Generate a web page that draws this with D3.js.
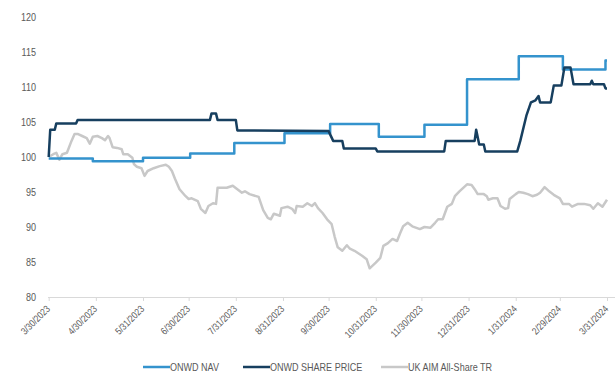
<!DOCTYPE html>
<html><head><meta charset="utf-8">
<script src="https://cdn.jsdelivr.net/npm/d3@7"></script>
<style>
html,body{margin:0;padding:0;background:#fff;}
svg{display:block;}
text{font-family:"Liberation Sans",Arial,sans-serif;fill:#595959;}
</style></head>
<body>
<svg id="chart" width="616" height="374"></svg>
<script>
// ---- data ----
const startDate = "2023-03-30";
const seriesNames = ["ONWD NAV", "ONWD SHARE PRICE", "UK AIM All-Share TR"];
const tickDates = ["2023-03-30","2023-04-30","2023-05-31","2023-06-30","2023-07-31","2023-08-31","2023-09-30","2023-10-31","2023-11-30","2023-12-31","2024-01-31","2024-02-29","2024-03-31"];
const yTicks = [80, 85, 90, 95, 100, 105, 110, 115, 120];

// NAV: days since start when a new NAV is published, and its value (step)
const navDays   = [0, 29, 62, 93, 122, 155, 185, 217, 247, 275, 309, 338, 366, 367];
const navValues = [99.8, 99.4, 99.9, 100.5, 102.0, 103.4, 104.7, 102.9, 104.6, 111.1, 114.4, 112.5, 113.8, 113.8];

// Share price: days since start, value
const priceDays   = [0, 1, 4, 5, 18, 19, 106, 107, 110, 111, 123, 124, 184, 187, 193, 194, 215, 216, 260, 261, 280, 281, 283, 286, 287, 308, 310, 314, 317, 320, 322, 323, 330, 332, 337, 339, 343, 345, 356, 357, 358, 365, 366, 367];
const priceValues = [100.0, 103.9, 103.9, 104.8, 104.8, 105.3, 105.3, 106.2, 106.2, 105.3, 105.3, 103.8, 103.7, 102.3, 102.3, 101.2, 101.2, 100.8, 100.8, 102.3, 102.3, 103.9, 101.8, 101.8, 100.8, 100.8, 102.3, 105.9, 107.8, 108.1, 108.7, 107.8, 107.8, 110.2, 110.2, 112.8, 112.8, 110.4, 110.4, 110.9, 110.4, 110.4, 109.8, 109.8];

// UK AIM All-Share TR: days since start, value
const indexDays = [0,3,5,7,9,12,15,17,19,22,25,27,29,32,35,37,39,40,42,45,48,49,52,55,56,58,61,63,65,69,73,77,79,81,83,86,90,92,94,98,100,103,105,108,110,111,115,117,121,124,127,129,132,138,141,144,146,148,152,153,157,160,162,163,167,170,173,175,177,180,183,186,188,190,193,196,198,201,206,209,211,215,218,220,223,226,229,231,233,236,239,244,247,251,254,256,259,262,265,267,270,275,278,280,282,286,288,289,292,295,297,300,302,303,307,309,312,315,318,321,323,326,329,332,336,338,342,344,348,352,356,358,361,364,367];
const indexValues = [100.0,100.4,100.6,99.6,100.4,100.6,102.3,103.3,103.3,103.0,102.7,101.9,102.9,103.0,102.7,102.4,103.0,102.7,101.4,101.3,101.1,100.4,100.4,99.9,99.0,98.6,98.4,97.3,98.0,98.4,98.7,98.9,98.6,98.0,96.9,95.4,94.4,94.0,94.1,93.7,92.6,92.0,93.0,93.4,93.3,95.6,95.6,95.6,95.9,95.4,94.9,95.1,94.7,94.3,92.4,91.3,91.1,91.9,91.6,92.7,92.9,92.6,92.0,93.0,92.9,93.4,93.0,93.4,92.7,92.0,91.1,90.4,88.6,87.1,86.6,87.4,86.9,86.6,85.9,85.4,84.1,84.9,85.6,87.3,87.7,88.3,88.0,89.1,90.1,90.6,90.1,89.7,90.0,89.9,90.6,91.1,91.1,92.9,93.3,94.4,95.1,96.1,96.0,95.4,94.7,94.7,94.4,93.9,94.1,94.1,93.0,92.6,92.7,94.0,94.7,95.0,94.9,94.7,94.4,94.6,94.9,95.7,95.1,94.6,94.1,93.3,93.3,92.9,93.3,93.3,93.1,92.6,93.4,92.9,93.9];

const colors = ["#3493cd", "#173f5f", "#c8c8c8"];

// ---- chart ----
const parse = d3.utcParse("%Y-%m-%d");
const t0 = parse(startDate);
const toPts = (days, vals) => days.map((d, i) => ({date: d3.utcDay.offset(t0, d), value: vals[i]}));
const nav = toPts(navDays, navValues);
const price = toPts(priceDays, priceValues);
const idx = toPts(indexDays, indexValues);

const svg = d3.select("#chart");
const x = d3.scaleUtc().domain([t0, parse("2024-03-31")]).range([48.7, 607]);
const y = d3.scaleLinear().domain([80, 120]).range([297, 17]);

// condense text to mimic a narrow typeface
function narrow(sel) {
  sel.each(function() {
    const w = this.getComputedTextLength();
    d3.select(this).attr("textLength", w * 0.82).attr("lengthAdjust", "spacingAndGlyphs");
  });
}

// y labels
svg.append("g").selectAll("text").data(yTicks).join("text")
  .attr("x", 36).attr("y", d => y(d)).attr("dy", "0.35em")
  .attr("text-anchor", "end").style("font-size", "11px")
  .text(d => d).call(narrow);

// x axis
const xAxis = d3.axisBottom(x)
  .tickValues(tickDates.map(parse))
  .tickFormat(d3.utcFormat("%-m/%-d/%Y"))
  .tickSize(4).tickSizeOuter(0);
const gx = svg.append("g").attr("transform", "translate(0,297)").call(xAxis);
gx.select(".domain").remove();
gx.append("line").attr("x1", 48).attr("x2", 615).attr("y1", 0.5).attr("y2", 0.5)
  .attr("stroke", "#d9d9d9").attr("stroke-width", 1);
gx.selectAll(".tick line").attr("stroke", "#d9d9d9");
gx.selectAll(".tick text")
  .attr("fill", "#595959").style("font-size", "10px")
  .attr("text-anchor", "end")
  .attr("transform", "translate(-1,10) rotate(-45)")
  .attr("dy", "0.35em").attr("y", 0).attr("x", 0)
  .call(narrow);

// lines
const lineLinear = d3.line().x(d => x(d.date)).y(d => y(d.value));
const lineStep = d3.line().x(d => x(d.date)).y(d => y(d.value)).curve(d3.curveStepAfter);

svg.append("path").datum(idx).attr("d", lineLinear)
  .attr("fill", "none").attr("stroke", colors[2]).attr("stroke-width", 2.5).attr("stroke-linejoin", "round");
svg.append("path").datum(nav).attr("d", lineStep)
  .attr("fill", "none").attr("stroke", colors[0]).attr("stroke-width", 2.5).attr("stroke-linejoin", "round");
svg.append("path").datum(price).attr("d", lineLinear)
  .attr("fill", "none").attr("stroke", colors[1]).attr("stroke-width", 2.5).attr("stroke-linejoin", "round");

// legend
const legendX = [143, 243, 381];
const lg = svg.append("g").selectAll("g").data(seriesNames).join("g")
  .attr("transform", (d, i) => `translate(${legendX[i]},367)`);
lg.append("line").attr("x1", 0).attr("x2", 27).attr("y1", 0).attr("y2", 0)
  .attr("stroke", (d, i) => colors[i]).attr("stroke-width", 2.5);
lg.append("text").attr("x", 27).attr("y", 0).attr("dy", "0.35em")
  .style("font-size", "11px").text(d => d).call(narrow);
</script>
</body></html>
